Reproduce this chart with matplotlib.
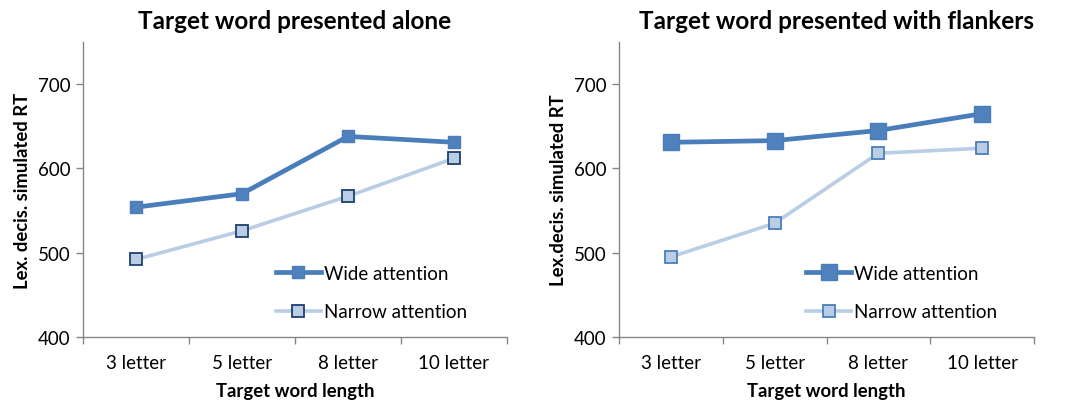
import matplotlib
import matplotlib.pyplot as plt
import numpy as np

matplotlib.use('Agg')
plt.rcParams['font.family'] = ['Lato', 'DejaVu Sans']

categories = ['3 letter', '5 letter', '8 letter', '10 letter']
series_names = ['Wide attention', 'Narrow attention']

alone_wide   = [554, 570, 638, 631]
alone_narrow = [492, 526, 567, 612]

flank_wide   = [631, 633, 645, 665]
flank_narrow = [495, 535, 618, 624]

titles  = ['Target word presented alone', 'Target word presented with flankers']
ylabels = ['Lex. decis. simulated RT', 'Lex.decis. simulated RT']

WIDE_LINE   = '#4a7ebb'
NARROW_LINE = '#b9cde5'
AXIS_GRAY   = '#868686'

fig = plt.figure(figsize=(10.73, 4.02), dpi=100)
ax1 = fig.add_axes([83 / 1073, 64 / 402, 424 / 1073, 295 / 402])
ax2 = fig.add_axes([619 / 1073, 64 / 402, 415 / 1073, 295 / 402])

x = np.arange(len(categories))

panels = [
    (ax1, alone_wide, alone_narrow, 8, '#1f3f6e', 0.945, 0.50),
    (ax2, flank_wide, flank_narrow, 12, '#4a7ebb', 0.952, 0.525),
]

for i, (ax, wide, narrow, wide_ms, narrow_edge, leg_x, title_x) in enumerate(panels):
    ax.plot(x, wide, color=WIDE_LINE, lw=3.4, marker='s', ms=wide_ms,
            mfc='#4f81bd', mec='#4a7ebb', label=series_names[0], zorder=3)
    ax.plot(x, narrow, color=NARROW_LINE, lw=2.6, marker='s', ms=8,
            mfc='#b9cde5', mec=narrow_edge, mew=1.3, label=series_names[1], zorder=3)

    ax.set_xlim(-0.5, len(categories) - 0.5)
    ax.set_ylim(400, 750)
    ax.set_yticks([400, 500, 600, 700])

    # category boundaries get the tick marks, labels sit in between
    ax.set_xticks(np.arange(len(categories) + 1) - 0.5)
    ax.set_xticklabels([])
    ax.set_xticks(x, minor=True)
    ax.set_xticklabels(categories, minor=True)
    ax.tick_params(axis='x', which='major', length=5, color=AXIS_GRAY, width=1)
    ax.tick_params(axis='x', which='minor', length=0, pad=12, labelsize=13.5)
    ax.tick_params(axis='y', length=5, color=AXIS_GRAY, width=1, labelsize=13.5, pad=4)

    for s in ['top', 'right']:
        ax.spines[s].set_visible(False)
    for s in ['left', 'bottom']:
        ax.spines[s].set_color(AXIS_GRAY)
        ax.spines[s].set_linewidth(1)

    ax.set_title(titles[i], fontsize=17.5, fontweight='bold', pad=10, x=title_x)
    ax.set_xlabel('Target word length', fontsize=13.3, fontweight='bold', labelpad=8)
    ax.set_ylabel(ylabels[i], fontsize=13.3, fontweight='bold', labelpad=5)

    ax.legend(loc='lower right', bbox_to_anchor=(leg_x, 0.0), frameon=False,
              fontsize=13.5, handlelength=2.4, handletextpad=0.15, labelspacing=1.15)

fig.savefig('out.png', dpi=100)
